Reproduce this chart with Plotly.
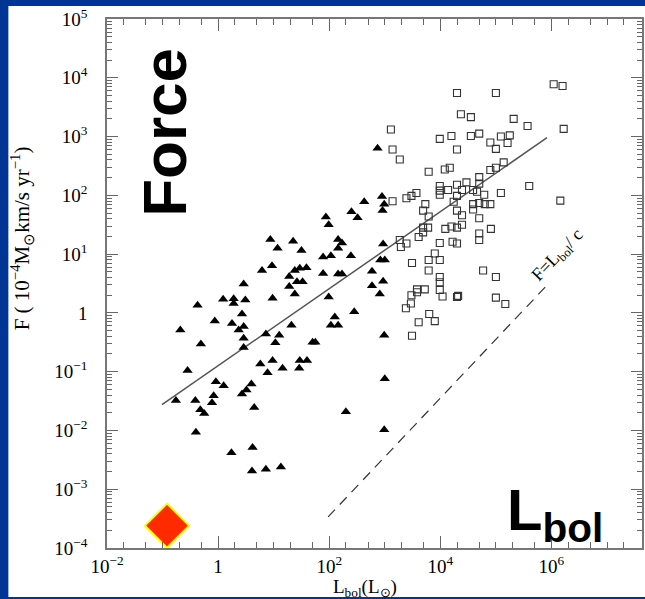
import plotly.graph_objects as go

# ---- data (log10 values) ----
tri_logL = [1.94, 1.99, 0.94, 1.35, 1.07, 1.50, 2.16, 2.23, 2.16, 1.89, 2.03, 2.39,
            0.79, 0.97, 1.38, 1.47, 1.59, 1.28, 1.42, 1.52, 1.28, 1.38, 1.89, 2.16,
            2.23, 0.46, 0.98, 1.99, -0.37, 0.09, 0.28, 0.28, 0.49, 0.43, -0.06, 0.25,
            0.46, 0.37, 0.46, 0.46, -0.68, -0.31, 0.86, 1.10, 1.03, 1.32, 1.70, 1.75,
            2.10, 2.03, 2.16, -0.55, 0.76, 0.98, 0.89, 1.16, 1.47, 1.60, 1.46, -0.04,
            0.10, 0.60, 0.51, 0.43, -0.08, -0.76, -0.41, -0.11, -0.32, -0.25, 0.65, 2.30,
            -0.40, 0.24, 0.62, 0.61, 0.86, 1.13, 2.87, 2.95, 2.63, 2.99, 2.96, 2.40,
            2.51, 2.97, 2.92, 3.00, 2.77, 2.77, 2.97, 2.91, 2.45, 2.99, 3.00, 2.99]
tri_logF = [1.63, 1.50, 1.25, 1.22, 1.10, 1.06, 1.25, 1.19, 1.10, 0.95, 0.97, 0.97,
            0.72, 0.80, 0.72, 0.76, 0.77, 0.62, 0.53, 0.53, 0.45, 0.32, 0.67, 0.66,
            0.66, 0.49, 0.25, 0.27, 0.13, 0.23, 0.24, 0.16, 0.22, -0.02, -0.14, -0.18,
            -0.23, -0.29, -0.43, -0.59, -0.29, -0.53, -0.36, -0.38, -0.51, -0.21, -0.50, -0.50,
            -0.07, -0.21, -0.21, -0.98, -0.87, -0.81, -1.02, -0.94, -0.81, -0.81, -0.94, -1.17,
            -1.24, -1.21, -1.31, -1.38, -1.41, -1.49, -1.49, -1.53, -1.65, -1.71, -1.61, -1.68,
            -2.03, -2.38, -2.29, -2.69, -2.66, -2.62, 2.80, 1.98, 1.89, 1.85, 1.74, 1.72,
            1.62, 1.17, 0.90, 0.90, 0.71, 0.46, 0.54, 0.32, 0.02, -0.38, -1.12, -1.99]

sq_logL = [4.30, 5.00, 6.04, 6.20, 4.37, 4.55, 5.32, 5.57, 6.22, 3.11, 3.14, 3.27,
           3.99, 4.20, 4.55, 4.70, 4.30, 4.90, 5.00, 5.09, 5.25, 5.21, 3.79, 4.08,
           4.17, 4.90, 5.00, 5.14, 5.60, 6.16, 3.14, 3.39, 3.48, 3.57, 3.99, 3.99,
           3.99, 4.14, 4.30, 4.47, 4.39, 4.30, 4.59, 4.70, 4.70, 4.66, 4.79, 5.09,
           3.73, 3.69, 3.79, 4.24, 4.30, 4.39, 4.59, 4.59, 4.70, 4.80, 4.90, 4.70,
           3.69, 3.78, 3.69, 3.61, 4.09, 4.20, 4.30, 4.39, 4.70, 4.70, 4.91, 3.27,
           3.29, 3.39, 3.99, 4.22, 4.30, 3.49, 3.90, 3.79, 3.99, 3.79, 4.77, 3.99,
           3.99, 5.00, 3.58, 3.72, 3.58, 3.99, 3.48, 4.04, 4.30, 4.32, 5.00, 5.17,
           3.47, 3.38, 3.80, 3.90, 3.61, 3.49]
sq_logF = [3.74, 3.74, 3.89, 3.86, 3.38, 3.33, 3.30, 3.18, 3.13, 3.12, 2.78, 2.61,
           2.96, 3.01, 3.01, 3.05, 2.78, 2.90, 2.79, 3.00, 3.02, 2.89, 2.40, 2.44,
           2.47, 2.43, 2.47, 2.56, 2.16, 1.91, 1.90, 1.95, 1.99, 2.04, 2.16, 2.08,
           2.01, 2.09, 2.18, 2.22, 2.09, 1.99, 2.09, 2.31, 2.20, 2.06, 2.01, 2.04,
           1.85, 1.74, 1.64, 1.89, 1.74, 1.66, 1.85, 1.76, 1.87, 1.85, 1.85, 1.61,
           1.45, 1.45, 1.37, 1.29, 1.43, 1.47, 1.45, 1.50, 1.35, 1.24, 1.43, 1.24,
           1.12, 1.18, 1.19, 1.21, 1.18, 0.85, 1.01, 0.90, 0.90, 0.72, 0.72, 0.61,
           0.52, 0.61, 0.40, 0.40, 0.35, 0.39, 0.30, 0.28, 0.27, 0.29, 0.26, 0.15,
           0.16, 0.08, -0.02, -0.14, -0.16, -0.39]

fit_logL = [-1.01, 5.92]
fit_logF = [-1.56, 2.98]
lc_logL = [1.98, 5.91]
lc_logF = [-3.47, 0.46]
mark_logL = [-0.92]
mark_logF = [-3.62]

x_tickvals = [1e-2, 1, 1e2, 1e4, 1e6]
x_ticktext = ["10<sup>−2</sup>", "1", "10<sup>2</sup>", "10<sup>4</sup>", "10<sup>6</sup>"]
y_tickvals = [1e-4, 1e-3, 1e-2, 1e-1, 1, 1e1, 1e2, 1e3, 1e4, 1e5]
y_ticktext = ["10<sup>−4</sup>", "10<sup>−3</sup>", "10<sup>−2</sup>", "10<sup>−1</sup>", "1",
              "10<sup>1</sup>", "10<sup>2</sup>", "10<sup>3</sup>", "10<sup>4</sup>", "10<sup>5</sup>"]

def p10(v):
    return [10 ** a for a in v]

x_minor = []
for k in range(-2, 8):
    if k % 2 != 0:
        x_minor.append(10.0 ** k)
    x_minor += [2 * 10.0 ** k, 5 * 10.0 ** k]
y_minor = [m * 10.0 ** k for k in range(-4, 5) for m in range(2, 10)]

SERIF = "Liberation Serif, Times New Roman, serif"
SANS = "Liberation Sans, Arial, sans-serif"

fig = go.Figure()
fig.add_trace(go.Scatter(x=p10(fit_logL), y=p10(fit_logF), mode="lines",
                         line=dict(color="#555555", width=1.5), showlegend=False))
fig.add_trace(go.Scatter(x=p10(lc_logL), y=p10(lc_logF), mode="lines",
                         line=dict(color="#333333", width=1.2, dash="10px,7px"), showlegend=False))
fig.add_trace(go.Scatter(x=p10(sq_logL), y=p10(sq_logF), mode="markers",
                         marker=dict(symbol="square-open", size=7, color="#333333",
                                     line=dict(width=1.1)), showlegend=False))
fig.add_trace(go.Scatter(x=p10(tri_logL), y=p10(tri_logF), mode="markers",
                         marker=dict(symbol="triangle-up", size=9, color="black",
                                     line=dict(width=0)), showlegend=False))
fig.add_trace(go.Scatter(x=p10(mark_logL), y=p10(mark_logF), mode="markers", cliponaxis=False,
                         marker=dict(symbol="diamond", size=34, color="#ff2a00",
                                     line=dict(color="#ffff00", width=2)), showlegend=False))

W, H = 645, 599
L, R, T, B = 107, 1, 19, 51
pw, ph = W - L - R, H - T - B

def px(xp):
    return (xp - L) / pw

def py(yp):
    return (H - B - yp) / ph

fig.add_shape(type="rect", xref="paper", yref="paper", layer="below",
              x0=px(8), x1=px(670), y0=py(597), y1=py(6),
              fillcolor="white", line=dict(width=0))

axis_common = dict(type="log", showgrid=False, zeroline=False, showline=True,
                   linecolor="#777777", linewidth=1.5, mirror="allticks",
                   ticks="inside", tickcolor="#666666", tickwidth=1.2,
                   tickfont=dict(family=SERIF, size=19, color="black"))

fig.update_xaxes(range=[-2, 7.63], tickmode="array", tickvals=x_tickvals, ticktext=x_ticktext,
                 ticklen=12, ticklabelstandoff=0,
                 minor=dict(tickmode="array", tickvals=x_minor, ticklen=6, tickcolor="#666666",
                            ticks="inside", tickwidth=1.2),
                 **axis_common)
fig.update_yaxes(range=[-4, 5], tickmode="array", tickvals=y_tickvals, ticktext=y_ticktext,
                 ticklen=11, ticklabelstandoff=14,
                 minor=dict(tickmode="array", tickvals=y_minor, ticklen=5, tickcolor="#666666",
                            ticks="inside", tickwidth=1),
                 **axis_common)

def note(text, xp, yp, font, angle=0):
    return dict(text=text, xref="paper", yref="paper", x=px(xp), y=py(yp),
                xanchor="center", yanchor="middle", showarrow=False,
                textangle=angle, font=font)

ann = [
    note("L<sub>bol</sub>(L<sub>⊙</sub>)", 366, 588, dict(family=SERIF, size=19, color="black")),
    note("F ( 10<sup>−4</sup>M<sub>⊙</sub>km/s yr<sup>−1</sup>)", 22, 238,
         dict(family=SERIF, size=21, color="black"), -90),
    note("<b>Force</b>", 164, 132, dict(family=SANS, size=62, color="black"), -90),
    note("<b>L<sub>bol</sub></b>", 557, 514, dict(family=SANS, size=58, color="black")),
    note("F=L<sub>bol</sub>/ c", 560, 256, dict(family=SERIF, size=18, color="black"), -46),
]

fig.update_layout(width=W, height=H, margin=dict(l=L, r=R, t=T, b=B),
                  paper_bgcolor="#003594", plot_bgcolor="white",
                  annotations=ann, showlegend=False)

fig.write_html("out.html", config={"displayModeBar": False},
               post_script="document.body.style.margin='0px';document.body.style.overflow='hidden';")
